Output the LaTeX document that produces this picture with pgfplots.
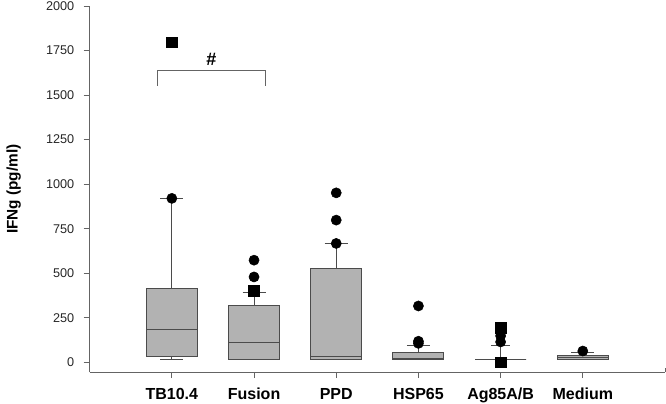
\documentclass[border=0pt]{standalone}
\usepackage{pgfplots}
\pgfplotsset{compat=1.18}
\usepackage{fontspec}
\setmainfont{Liberation Sans}
\definecolor{boxfill}{RGB}{178,178,178}
\definecolor{boxedge}{RGB}{75,75,75}
\definecolor{axgray}{RGB}{100,100,100}
\begin{document}
\begin{tikzpicture}
\begin{axis}[
  name=ax,
  scale only axis,
  width=431.25pt, height=274.5pt,
  xmin=0, xmax=7, ymin=-56, ymax=2000,
  axis lines*=left,
  axis line style={axgray, line width=0.8pt},
  tick align=outside,
  major tick length=4.5pt,
  tick style={axgray, line width=0.6pt},
  xtick={1,...,6},
  xticklabels={TB10.4, Fusion, PPD, HSP65, Ag85A/B, Medium},
  xticklabel style={font=\bfseries\fontsize{12}{14}\selectfont, text=black, yshift=-4pt},
  ytick={0,250,...,2000},
  yticklabel style={font=\fontsize{9.5}{11}\selectfont, text=black!85, xshift=-3.5pt},
  /pgf/number format/assume math mode=true,
  scaled y ticks=false,
  /pgf/number format/1000 sep={},
  ylabel={IFNg (pg/ml)},
  every axis y label/.style={at={(rel axis cs:0,0.5)}, xshift=-57pt, rotate=90, anchor=center, font=\bfseries\fontsize{11.5}{13}\selectfont},
  clip=false,
]
% boxes (lower quartile, upper quartile)
\addplot[draw=boxedge, fill=boxfill, line width=0.7pt] coordinates {(0.69,35) (1.31,35) (1.31,414) (0.69,414)} --cycle;
\addplot[draw=boxedge, fill=boxfill, line width=0.7pt] coordinates {(1.69,15) (2.31,15) (2.31,316) (1.69,316)} --cycle;
\addplot[draw=boxedge, fill=boxfill, line width=0.7pt] coordinates {(2.69,15) (3.31,15) (3.31,526) (2.69,526)} --cycle;
\addplot[draw=boxedge, fill=boxfill, line width=0.7pt] coordinates {(3.69,15) (4.31,15) (4.31,54) (3.69,54)} --cycle;
\addplot[draw=boxedge, fill=boxfill, line width=0.7pt] coordinates {(4.69,15) (5.31,15) (5.31,15) (4.69,15)} --cycle;
\addplot[draw=boxedge, fill=boxfill, line width=0.7pt] coordinates {(5.69,15) (6.31,15) (6.31,38) (5.69,38)} --cycle;
% medians, whiskers and caps
\addplot[boxedge, line width=0.7pt, unbounded coords=jump] coordinates {
(0.69,184) (1.31,184) (1,nan)
(1.69,111) (2.31,111) (2,nan)
(2.69,35) (3.31,35) (3,nan)
(3.69,20) (4.31,20) (4,nan)
(5.69,25) (6.31,25) (6,nan)
(1,15) (1,35) (1,nan)
(0.86,15) (1.14,15) (1,nan)
(1,414) (1,920) (1,nan)
(0.86,920) (1.14,920) (1,nan)
(2,316) (2,392) (2,nan)
(1.86,392) (2.14,392) (2,nan)
(3,526) (3,667) (3,nan)
(2.86,667) (3.14,667) (3,nan)
(4,54) (4,95) (4,nan)
(3.86,95) (4.14,95) (4,nan)
(5,15) (5,92) (5,nan)
(4.88,92) (5.12,92) (5,nan)
(6,38) (6,56) (6,nan)
(5.86,56) (6.14,56)
};
% outliers
\addplot[only marks, mark=*, mark size=3.8pt, black] coordinates {(1,920) (2,479) (2,573) (3,667) (3,798) (3,951) (4,106) (4,118) (4,316) (5,114) (5,148) (6,63)};
\addplot[only marks, mark=square*, mark size=4pt, black] coordinates {(1,1796) (2,400) (5,0) (5,192)};
% significance bracket
\addplot[axgray, line width=0.7pt, no marks] coordinates {(0.82,1551) (0.82,1637) (2.14,1637) (2.14,1551)};
\node[font=\bfseries\fontsize{13.5}{15}\selectfont] at (axis cs:1.48,1700) {\#};
\draw[axgray, line width=0.6pt] (axis cs:7,-56) -- (axis cs:7,-30);
\end{axis}
\pgfresetboundingbox
\useasboundingbox ([xshift=-67.2pt,yshift=-23.25pt]ax.south west) rectangle ([xshift=0.75pt,yshift=4.5pt]ax.north east);
\end{tikzpicture}
\end{document}
